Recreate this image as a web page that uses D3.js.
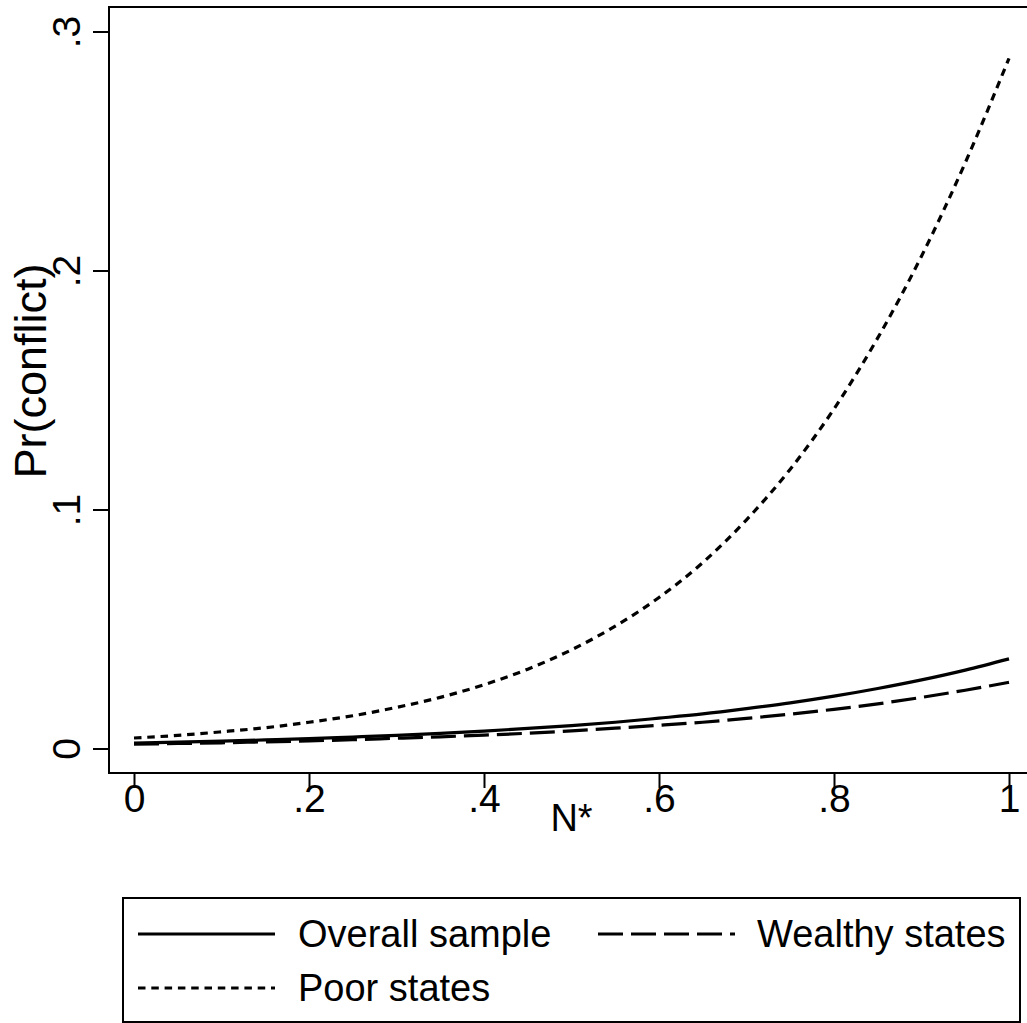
<!DOCTYPE html>
<html>
<head>
<meta charset="utf-8">
<script src="https://cdn.jsdelivr.net/npm/d3@7"></script>
<style>
  body { margin: 0; background: white; }
  text { font-family: "Liberation Sans", Arial, sans-serif; fill: black; }
</style>
</head>
<body>
<div id="container"></div>
<script>
// values
var nstar = [0, .05, .1, .15, .2, .25, .3, .35, .4, .45, .5, .55, .6, .65, .7, .75, .8, .85, .9, .95, 1];
var overall = [.0025, .0029, .0033, .0038, .0043, .0050, .0057, .0065, .0075, .0086, .0098, .0112, .0129, .0147, .0169, .0193, .0221, .0253, .0289, .0330, .0377];
var wealthy = [.0020, .0023, .0026, .0030, .0034, .0039, .0045, .0051, .0058, .0066, .0076, .0087, .0099, .0112, .0128, .0146, .0166, .0189, .0216, .0246, .0279];
var poor = [.0046, .0057, .0072, .0089, .0112, .0139, .0174, .0216, .0269, .0334, .0415, .0514, .0634, .0780, .0959, .1171, .1423, .1720, .2062, .2453, .2890];
var xTicks = [0, .2, .4, .6, .8, 1];
var yTicks = [0, .1, .2, .3];
var seriesNames = ['Overall sample', 'Wealthy states', 'Poor states'];

var svgWidth = 1027,
    svgHeight = 1023,
    tickFont = 39,
    legendFont = 38,
    svg = d3.select('#container').append('svg').attr('width', svgWidth).attr('height', svgHeight).style('background-color', 'white');

var frame = { left: 109, top: 7, right: 1030, bottom: 773 };

var x = d3.scaleLinear().domain([0, 1]).range([134, 1009]);
var y = d3.scaleLinear().domain([0, .3]).range([749, 32]);

var fmt = function(d) { return d === 0 ? '0' : d === 1 ? '1' : String(d).replace(/^0/, ''); };

// plot frame
svg.append('rect')
  .attr('x', frame.left).attr('y', frame.top)
  .attr('width', frame.right - frame.left).attr('height', frame.bottom - frame.top)
  .attr('fill', 'none').attr('stroke', 'black').attr('stroke-width', 2);

// x axis
var gx = svg.append('g').attr('transform', 'translate(0,' + frame.bottom + ')')
  .call(d3.axisBottom(x).tickValues(xTicks).tickFormat(fmt).tickSize(15));
gx.select('.domain').remove();
gx.selectAll('line').attr('stroke-width', 2);
gx.selectAll('text')
  .attr('y', 39).attr('dy', null)
  .style('font-size', tickFont + 'px').style('font-family', '"Liberation Sans", Arial, sans-serif');

// y axis
var gy = svg.append('g').attr('transform', 'translate(' + frame.left + ',0)')
  .call(d3.axisLeft(y).tickValues(yTicks).tickFormat(fmt).tickSize(16));
gy.select('.domain').remove();
gy.selectAll('line').attr('stroke-width', 2);
gy.selectAll('text')
  .attr('x', null).attr('dy', null)
  .attr('transform', function(d) { return 'translate(-29,' + y(d) + ') rotate(-90)'; })
  .attr('y', 0)
  .style('text-anchor', 'middle')
  .style('font-size', tickFont + 'px').style('font-family', '"Liberation Sans", Arial, sans-serif');
gy.selectAll('.tick').attr('transform', null);
gy.selectAll('.tick line').attr('transform', function(d) { return 'translate(0,' + y(d) + ')'; });

// axis titles
svg.append('text')
  .attr('x', x(.5)).attr('y', 831)
  .style('text-anchor', 'middle').style('font-size', legendFont + 'px')
  .text('N*');

svg.append('text')
  .attr('transform', 'translate(46,371) rotate(-90)')
  .style('text-anchor', 'middle').style('font-size', '45px')
  .text('Pr(conflict)');

// curves
var styles = [
  { data: overall, dash: null },
  { data: wealthy, dash: '25,8' },
  { data: poor, dash: '7.5,5.8' }
];

var line = d3.line()
  .x(function(d, i) { return x(nstar[i]); })
  .y(function(d) { return y(d); })
  .curve(d3.curveMonotoneX);

styles.forEach(function(s) {
  svg.append('path')
    .datum(s.data)
    .attr('fill', 'none')
    .attr('stroke', 'black')
    .attr('stroke-width', 3.2)
    .attr('stroke-dasharray', s.dash)
    .attr('d', line);
});

// legend
svg.append('rect')
  .attr('x', 123).attr('y', 898).attr('width', 897).attr('height', 124)
  .attr('fill', 'none').attr('stroke', 'black').attr('stroke-width', 2);

var legendPos = [
  { x1: 138, x2: 275, y: 934, tx: 298 },
  { x1: 598, x2: 735, y: 934, tx: 757 },
  { x1: 138, x2: 275, y: 988, tx: 298 }
];

legendPos.forEach(function(p, i) {
  svg.append('line')
    .attr('x1', p.x1).attr('x2', p.x2).attr('y1', p.y).attr('y2', p.y)
    .attr('stroke', 'black').attr('stroke-width', 3.2)
    .attr('stroke-dasharray', styles[i].dash);
  svg.append('text')
    .attr('x', p.tx).attr('y', p.y + 13)
    .style('font-size', legendFont + 'px')
    .text(seriesNames[i]);
});
</script>
</body>
</html>
